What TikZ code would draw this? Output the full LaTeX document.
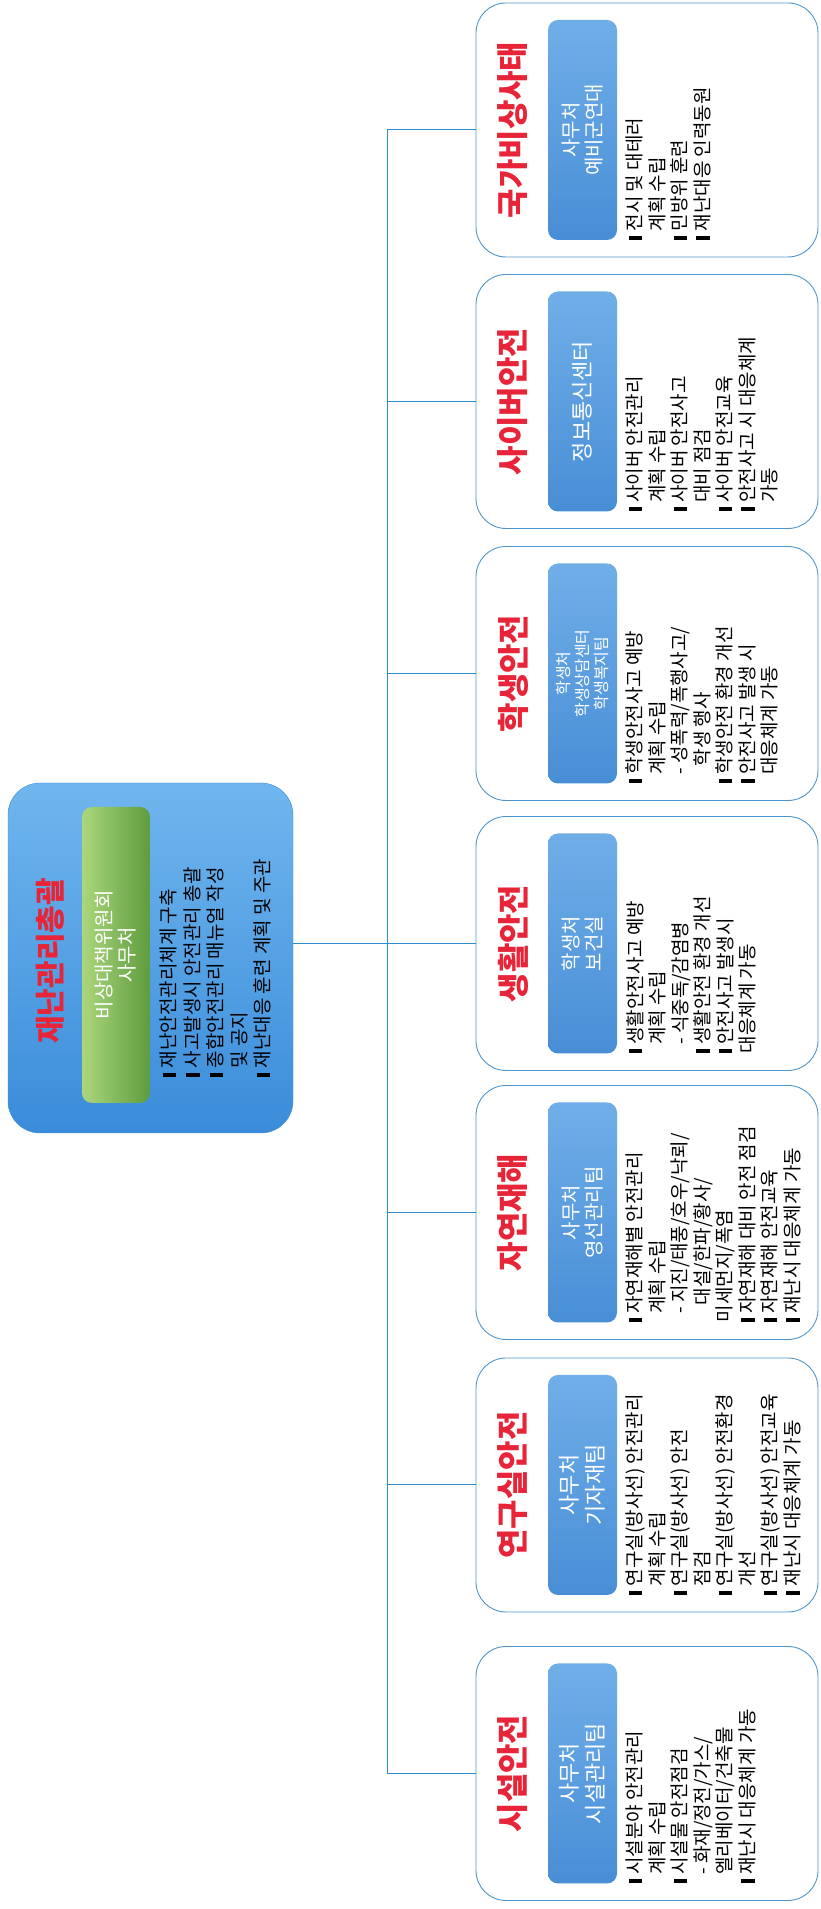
\documentclass[tikz,border=0pt]{standalone}
\usepackage{fontspec}
\setmainfont{Noto Sans CJK KR}
\usetikzlibrary{shapes,calc}
\definecolor{titlered}{RGB}{232,36,56}
\definecolor{linkblue}{RGB}{45,140,205}
\definecolor{boxline}{RGB}{80,150,205}
\definecolor{subtop}{RGB}{112,174,232}
\definecolor{subbot}{RGB}{72,142,214}
\definecolor{roottop}{RGB}{112,182,238}
\definecolor{rootbot}{RGB}{58,140,218}
\definecolor{greenlt}{RGB}{172,214,124}
\definecolor{greendk}{RGB}{94,156,62}
\newcommand{\bl}{\makebox[0.45em][l]{\rule[-0.02em]{0.2em}{0.72em}}}
\newcommand{\ind}{\hspace*{0.45em}}

\begin{document}
\begin{tikzpicture}[x=1pt,y=1pt,
    unitbox/.style={rotate=90,draw=boxline,line width=0.9pt,rounded corners=30pt,fill=white,minimum width=254pt,minimum height=342pt,inner sep=0pt},
    rootbox/.style={rotate=90,draw=rootbot,rounded corners=32pt,top color=roottop,bottom color=rootbot,minimum width=350pt,minimum height=285pt,inner sep=0pt},
    headline/.style={rotate=90,text=titlered,inner sep=0pt,font=\fontsize{32}{36}\selectfont\bfseries},
    office/.style={rotate=90,rounded corners=10pt,top color=subtop,bottom color=subbot,text=white,minimum width=220pt,minimum height=69pt,inner sep=0pt,align=center,font=\fontsize{20}{23}\selectfont},
    duties/.style={rotate=90,anchor=north west,align=left,inner sep=0pt,font=\fontsize{19}{22.5}\selectfont},
    link/.style={draw=linkblue,line width=1pt}]

    \useasboundingbox (0,0) rectangle (821,1909);

    % top box
    \node[rootbox] (root) at (150.5,951) {};
    \node[headline,font=\fontsize{30}{34}\selectfont\bfseries] (rootT) at (50,948) {재난관리총괄};
    \node[office,left color=greenlt,right color=greendk,minimum width=296pt,minimum height=68pt] (rootO) at (116,954) {비상대책위원회\\사무처};
    \node[duties,font=\fontsize{19}{23.5}\selectfont] (rootD) at (160,832) {\bl 재난안전관리체계 구축\\\bl 사고발생시 안전관리 총괄\\\bl 종합안전관리 매뉴얼 작성\\\ind 및 공지\\\bl 재난대응 훈련 계획 및 주관};

    % units
    \node[unitbox] (nat) at (647,1779) {};
    \node[headline] (natT) at (513,1779) {국가비상사태};
    \node[office] (natO) at (582.5,1779) {사무처\\예비군연대};
    \node[duties] (natD) at (626,1669) {\bl 전시 및 대테러\\\ind 계획 수립\\\bl 민방위 훈련\\\bl 재난대응 인력동원};

    \node[unitbox] (cyb) at (647,1507.5) {};
    \node[headline] (cybT) at (513,1507.5) {사이버안전};
    \node[office,font=\fontsize{22}{25}\selectfont] (cybO) at (582.5,1507.5) {정보통신센터};
    \node[duties] (cybD) at (626,1397.5) {\bl 사이버 안전관리\\\ind 계획 수립\\\bl 사이버 안전사고\\\ind 대비 점검\\\bl 사이버 안전교육\\\bl 안전사고 시 대응체계\\\ind 가동};

    \node[unitbox] (stu) at (647,1235.5) {};
    \node[headline] (stuT) at (513,1235.5) {학생안전};
    \node[office,font=\fontsize{16}{19}\selectfont] (stuO) at (582.5,1235.5) {학생처\\학생상담센터\\학생복지팀};
    \node[duties] (stuD) at (626,1125.5) {\bl 학생안전사고 예방\\\ind 계획 수립\\\ind- 성폭력/폭행사고/\\\ind\ \ 학생 행사\\\bl 학생안전 환경 개선\\\bl 안전사고 발생 시\\\ind 대응체계 가동};

    \node[unitbox] (lif) at (647,965.5) {};
    \node[headline] (lifT) at (513,965.5) {생활안전};
    \node[office] (lifO) at (582.5,965.5) {학생처\\보건실};
    \node[duties] (lifD) at (626,855.5) {\bl 생활안전사고 예방\\\ind 계획 수립\\\ind- 식중독/감염병\\\bl 생활안전 환경 개선\\\bl 안전사고 발생시\\대응체계 가동};

    \node[unitbox] (dis) at (647,696.5) {};
    \node[headline] (disT) at (513,696.5) {자연재해};
    \node[office] (disO) at (582.5,696.5) {사무처\\영선관리팀};
    \node[duties] (disD) at (626,586.5) {\bl 자연재해별 안전관리\\\ind 계획 수립\\\ind- 지진/태풍/호우/낙뢰/\\\ind\ \ 대설/한파/황사/\\미세먼지/폭염\\\bl 자연재해 대비 안전 점검\\\bl 자연재해 안전교육\\\bl 재난시 대응체계 가동};

    \node[unitbox] (lab) at (647,424) {};
    \node[headline] (labT) at (513,424) {연구실안전};
    \node[office,font=\fontsize{22}{26}\selectfont] (labO) at (582.5,424) {사무처\\기자재팀};
    \node[duties] (labD) at (626,314) {\bl 연구실(방사선) 안전관리\\\ind 계획 수립\\\bl 연구실(방사선) 안전\\\ind 점검\\\bl 연구실(방사선) 안전환경\\\ind 개선\\\bl 연구실(방사선) 안전교육\\\bl 재난시 대응체계 가동};

    \node[unitbox] (fac) at (647,135.5) {};
    \node[headline] (facT) at (513,135.5) {시설안전};
    \node[office,font=\fontsize{22}{26}\selectfont] (facO) at (582.5,135.5) {사무처\\시설관리팀};
    \node[duties] (facD) at (626,25.5) {\bl 시설분야 안전관리\\\ind 계획 수립\\\bl 시설물 안전점검\\\ind - 화재/정전/가스/\\\ind 엘리베이터/건축물\\\bl 재난시 대응체계 가동};

    % connectors
    \coordinate (bus) at (387,951);
    \draw[link] (root.south |- lif.north) -- (lif.north);
    \draw[link] (nat.north -| bus) -- (fac.north -| bus);
    \foreach \u in {nat,cyb,stu,dis,lab,fac}
        \draw[link] (\u.north -| bus) -- (\u.north);

\end{tikzpicture}
\end{document}
